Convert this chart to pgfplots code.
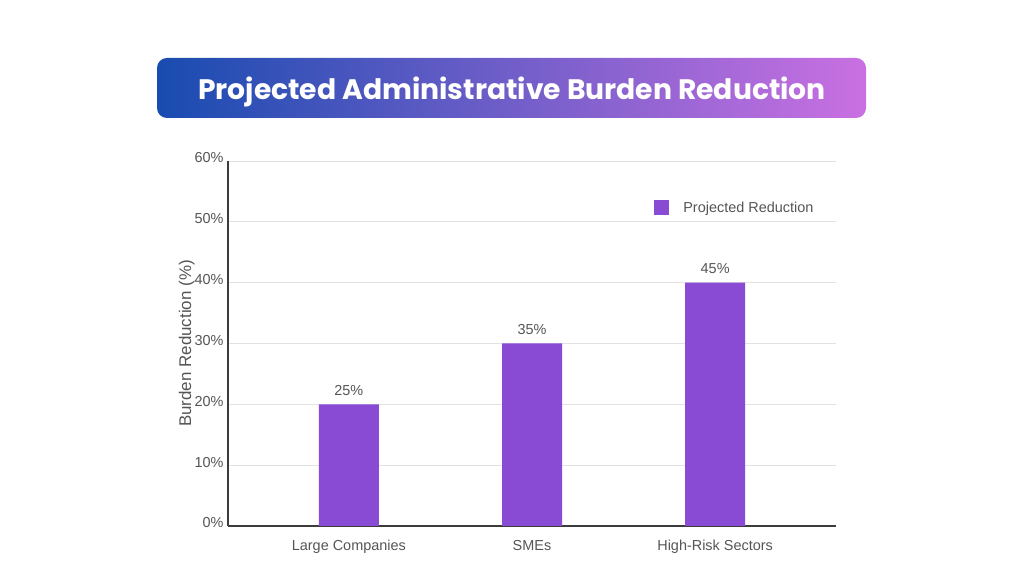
\documentclass[border=0pt]{standalone}
\usepackage{pgfplots}
\pgfplotsset{compat=1.18}
\usepackage{fontspec}
\setmainfont{Liberation Sans}
\newfontfamily\titlefont{Poppins}[UprightFont=* Bold]
\definecolor{barc}{RGB}{137,75,212}
\definecolor{tl}{RGB}{24,76,176}
\definecolor{tr}{RGB}{202,112,226}
\definecolor{txt}{RGB}{85,85,85}
\definecolor{gridc}{RGB}{226,226,226}
\definecolor{axc}{RGB}{60,60,60}
\begin{document}
\begin{tikzpicture}[x=1bp,y=1bp]
\path[use as bounding box] (0,0) rectangle (1024,576);
\shade[left color=tl, right color=tr, rounded corners=10bp] (157,458) rectangle (866,518);
\node[text=white, font=\titlefont\fontsize{28.3}{31}\selectfont] at (512,484) {Projected Administrative Burden Reduction};
\begin{axis}[
  at={(228bp,50bp)}, anchor=south west,
  scale only axis, width=608bp, height=365bp,
  xmin=-0.66, xmax=2.66, ymin=0, ymax=60,
  axis lines*=left,
  axis line style={axc, line width=1.3pt, -},
  ytick={0,10,20,30,40,50,60},
  yticklabel={\pgfmathprintnumber{\tick}\%},
  xtick=data,
  xticklabels={Large Companies, SMEs, High-Risk Sectors},
  major tick length=0pt,
  ymajorgrids, grid style={gridc, line width=0.8pt},
  tick label style={text=txt, font=\fontsize{14.5}{16}\selectfont},
  /pgf/number format/assume math mode=true,
  yticklabel style={xshift=-1bp, yshift=3bp},
  xticklabel style={yshift=-11bp},
  ylabel={Burden Reduction (\%)},
  ylabel style={text=txt, font=\fontsize{17}{19}\selectfont, yshift=-7bp},
  legend style={draw=none, fill=none, at={(0.696,0.872)}, anchor=west, font=\fontsize{14.5}{16}\selectfont, text=txt, legend cell align=left},
  legend image code/.code={\fill[barc] (0bp,-7.5bp) rectangle (15bp,7.5bp);},
  clip=false,
]
\addplot[ybar, bar width=60bp, fill=barc, draw=none,
  point meta=explicit symbolic,
  nodes near coords, every node near coord/.style={text=txt, font=\fontsize{14.5}{16}\selectfont, yshift=5bp}]
  coordinates {(0,20) [25\%] (1,30) [35\%] (2,40) [45\%]};
\addlegendentry{\hspace{12bp}Projected Reduction}
\end{axis}
\end{tikzpicture}
\end{document}
